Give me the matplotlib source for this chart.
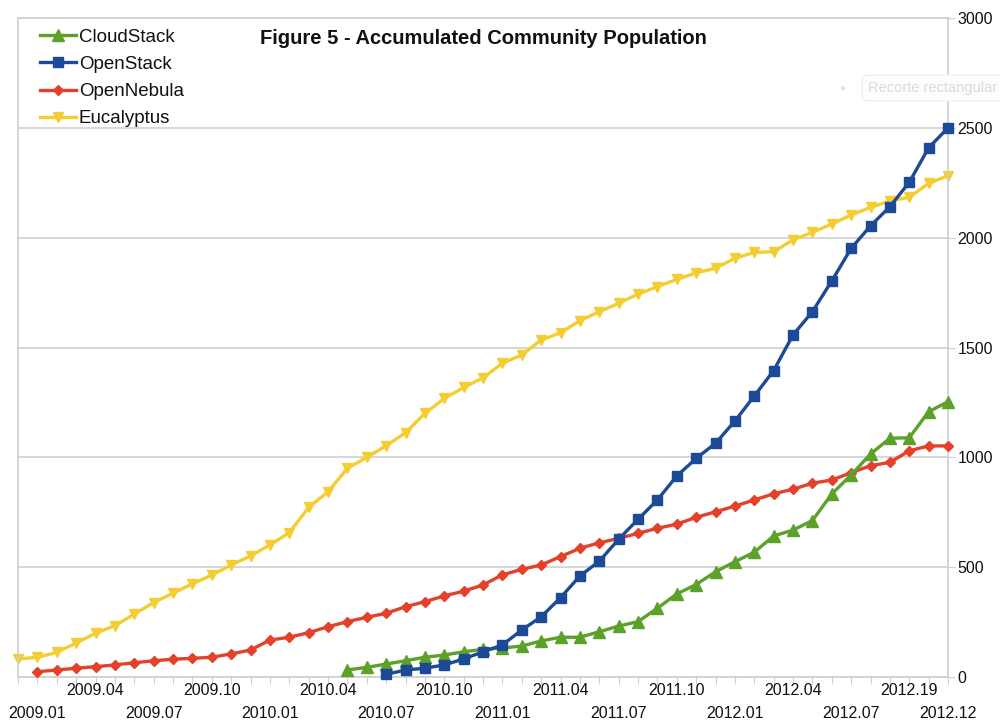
import numpy as np
import matplotlib
matplotlib.use("Agg")
import matplotlib.pyplot as plt

plt.rcParams["font.family"] = ["Liberation Sans", "DejaVu Sans"]

# month slots 0..48 (slot 1 = 2009.01, slot 48 = 2012.12)
n_slots = 49

eucalyptus = [82, 90, 112, 155, 199, 234, 286, 339, 382, 424, 464, 510, 551,
              601, 657, 772, 843, 950, 1000, 1053, 1112, 1200, 1268, 1318,
              1362, 1428, 1466, 1534, 1567, 1622, 1663, 1701, 1743, 1777,
              1810, 1840, 1861, 1906, 1933, 1936, 1990, 2024, 2062, 2103,
              2138, 2167, 2184, 2247, 2282]
opennebula = [24, 32, 40, 47, 55, 65, 74, 81, 85, 90, 105, 123, 168, 181, 202,
              229, 252, 272, 290, 320, 343, 369, 391, 419, 465, 490, 510, 548,
              586, 611, 631, 654, 677, 696, 727, 752, 778, 806, 834, 855, 882,
              897, 930, 962, 977, 1030, 1052, 1052]
cloudstack = [32, 44, 59, 74, 90, 100, 115, 126, 132, 141, 164, 181, 181, 206,
              232, 252, 313, 378, 421, 479, 525, 568, 642, 669, 712, 833, 920,
              1015, 1087, 1089, 1208, 1253]
openstack = [12, 32, 40, 55, 82, 115, 146, 214, 274, 361, 460, 527, 627, 718,
             806, 915, 995, 1064, 1165, 1279, 1395, 1557, 1663, 1803, 1951,
             2054, 2141, 2252, 2409, 2500]

# first slot of each series
start_euca, start_nebula, start_cloud, start_open = 0, 1, 17, 19

top_labels = {4: "2009.04", 10: "2009.10", 16: "2010.04", 22: "2010.10",
              28: "2011.04", 34: "2011.10", 40: "2012.04", 46: "2012.19"}
bottom_labels = {1: "2009.01", 7: "2009.07", 13: "2010.01", 19: "2010.07",
                 25: "2011.01", 31: "2011.07", 37: "2012.01", 43: "2012.07",
                 48: "2012.12"}

fig = plt.figure(figsize=(10, 7.23), dpi=100)
ax = fig.add_axes([0.018, 0.0636, 0.930, 0.9115])

def xs(start, vals):
    return np.arange(start, start + len(vals))

ax.plot(xs(start_cloud, cloudstack), cloudstack, color="#5ca12a", lw=2.4,
        marker="^", ms=8, label="CloudStack", clip_on=False, zorder=4)
ax.plot(xs(start_open, openstack), openstack, color="#1d4a96", lw=2.4,
        marker="s", ms=7, label="OpenStack", clip_on=False, zorder=5)
ax.plot(xs(start_nebula, opennebula), opennebula, color="#e4412b", lw=2.4,
        marker="D", ms=5, label="OpenNebula", clip_on=False, zorder=3)
ax.plot(xs(start_euca, eucalyptus), eucalyptus, color="#f4cd32", lw=2.4,
        marker="v", ms=7, label="Eucalyptus", clip_on=False, zorder=2)

ax.set_xlim(0, n_slots - 1)
ax.set_ylim(0, 3000)

# axes look
grey = "#cfcfcf"
for s in ax.spines.values():
    s.set_color(grey)
    s.set_linewidth(1.2)
ax.yaxis.grid(True, color=grey, lw=1.2)
ax.set_axisbelow(True)

ax.yaxis.tick_right()
ax.set_yticks(np.arange(0, 3001, 500))
ax.tick_params(axis="y", length=5, color=grey, labelsize=11.5, pad=2,
               labelcolor="#111111")

ax.set_xticks(np.arange(n_slots))
ax.set_xticklabels([])
ax.tick_params(axis="x", length=5, color=grey)

tr = ax.get_xaxis_transform()
for k, t in top_labels.items():
    ax.text(k, -0.020, t, transform=tr, ha="center", va="center",
            fontsize=11.5, color="#111111")
for k, t in bottom_labels.items():
    ax.text(k, -0.055, t, transform=tr, ha="center", va="center",
            fontsize=11.5, color="#111111")

ax.text(0.5, 0.969, "Figure 5 - Accumulated Community Population",
        transform=ax.transAxes, ha="center", va="center",
        fontsize=14.5, fontweight="bold", color="#111111")

leg = ax.legend(loc="upper left", bbox_to_anchor=(0.024, 0.984),
                frameon=False, fontsize=13.5, handlelength=1.9,
                handletextpad=0.15, labelspacing=0.54, borderpad=0,
                borderaxespad=0)
for t in leg.get_texts():
    t.set_color("#111111")

# faint screenshot overlay at the right edge
fig.text(0.868, 1 - 88 / 723, "Recorte rectangular", ha="left", va="center",
         fontsize=10.5, color="#dadada",
         bbox=dict(boxstyle="round,pad=0.4", fc="#fdfdfd", ec="#f0f0f0"))
fig.text(0.842, 1 - 88 / 723, "\u25cf", ha="center", va="center",
         fontsize=7, color="#e2e2e2")

fig.savefig("out.png", dpi=100)
